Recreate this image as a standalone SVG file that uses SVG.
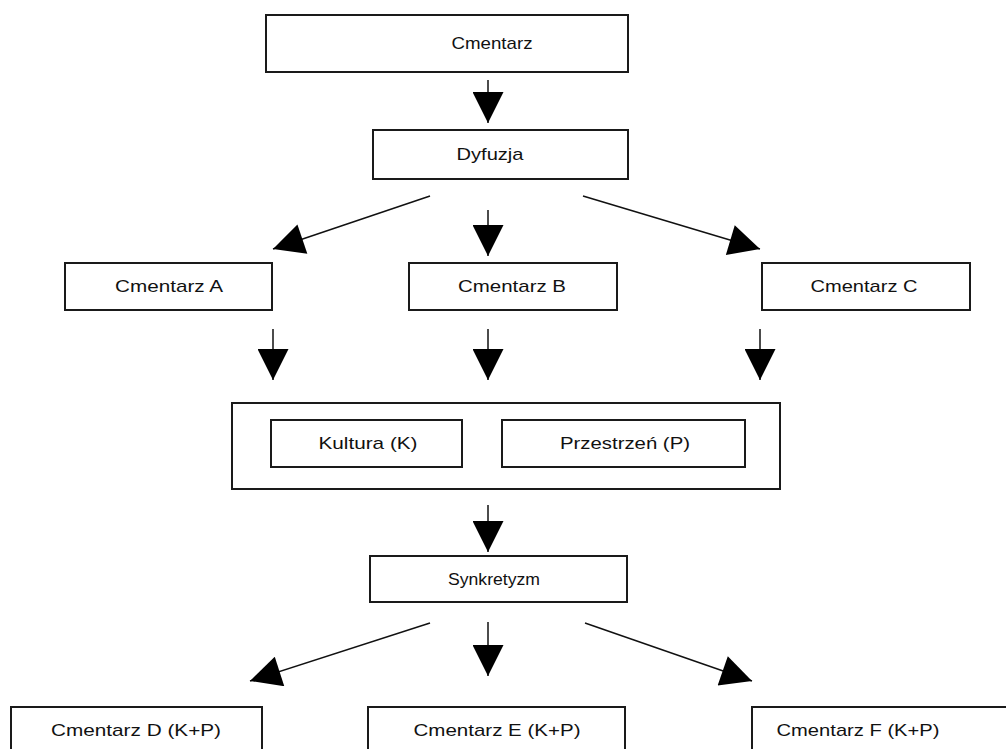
<svg xmlns="http://www.w3.org/2000/svg" width="1006" height="749" viewBox="0 0 1006 749">
<style>
rect{fill:#fff;stroke:#1a1a1a;stroke-width:2}
text{font-family:"Liberation Sans",Arial,sans-serif;font-size:17px;fill:#111;text-anchor:middle}
.c line{stroke:#111;stroke-width:1.5}
</style>
<defs>
<marker id="ah" viewBox="0 0 32 32" refX="32" refY="16" markerUnits="userSpaceOnUse" markerWidth="32" markerHeight="31" orient="auto">
<path d="M0,0 L32,16 L0,32 z" fill="#000"/>
</marker>
</defs>
<rect x="0" y="0" width="1006" height="749" style="stroke:none"/>
<g id="cmentarz"><rect x="266" y="15" width="362" height="57"/><text x="492" y="49" textLength="81" lengthAdjust="spacingAndGlyphs">Cmentarz</text></g>
<g id="dyfuzja"><rect x="373" y="130" width="255" height="49"/><text x="490" y="160" textLength="67" lengthAdjust="spacingAndGlyphs">Dyfuzja</text></g>
<g id="cmA"><rect x="65" y="263" width="207" height="47"/><text x="169" y="292" textLength="108" lengthAdjust="spacingAndGlyphs">Cmentarz A</text></g>
<g id="cmB"><rect x="409" y="263" width="208" height="47"/><text x="512" y="292" textLength="108" lengthAdjust="spacingAndGlyphs">Cmentarz B</text></g>
<g id="cmC"><rect x="762" y="263" width="208" height="47"/><text x="864" y="292" textLength="107" lengthAdjust="spacingAndGlyphs">Cmentarz C</text></g>
<g id="kp"><rect x="232" y="403" width="548" height="86"/>
<g id="kultura"><rect x="271" y="420" width="191" height="47"/><text x="368" y="449" textLength="99" lengthAdjust="spacingAndGlyphs">Kultura (K)</text></g>
<g id="przestrzen"><rect x="502" y="420" width="243" height="47"/><text x="625" y="449" textLength="130" lengthAdjust="spacingAndGlyphs">Przestrzeń (P)</text></g>
</g>
<g id="synkretyzm"><rect x="370" y="556" width="257" height="46"/><text x="494" y="585" textLength="92" lengthAdjust="spacingAndGlyphs">Synkretyzm</text></g>
<g id="cmD"><rect x="11" y="707" width="251" height="60"/><text x="136" y="736" textLength="170" lengthAdjust="spacingAndGlyphs">Cmentarz D (K+P)</text></g>
<g id="cmE"><rect x="368" y="707" width="257" height="60"/><text x="497" y="736" textLength="167" lengthAdjust="spacingAndGlyphs">Cmentarz E (K+P)</text></g>
<g id="cmF"><rect x="752" y="707" width="270" height="60"/><text x="858" y="736" textLength="163" lengthAdjust="spacingAndGlyphs">Cmentarz F (K+P)</text></g>
<g id="connectors" class="c">
<line x1="488" y1="80" x2="488" y2="123" marker-end="url(#ah)"/>
<line x1="430" y1="196" x2="273" y2="249" marker-end="url(#ah)"/>
<line x1="488" y1="210" x2="488" y2="256" marker-end="url(#ah)"/>
<line x1="583" y1="196" x2="760" y2="249" marker-end="url(#ah)"/>
<line x1="273" y1="329" x2="273" y2="380" marker-end="url(#ah)"/>
<line x1="488" y1="329" x2="488" y2="380" marker-end="url(#ah)"/>
<line x1="760" y1="329" x2="760" y2="380" marker-end="url(#ah)"/>
<line x1="488" y1="505" x2="488" y2="552" marker-end="url(#ah)"/>
<line x1="430" y1="623" x2="250" y2="681" marker-end="url(#ah)"/>
<line x1="488" y1="622" x2="488" y2="676" marker-end="url(#ah)"/>
<line x1="585" y1="623" x2="752" y2="681" marker-end="url(#ah)"/>
</g>
</svg>
